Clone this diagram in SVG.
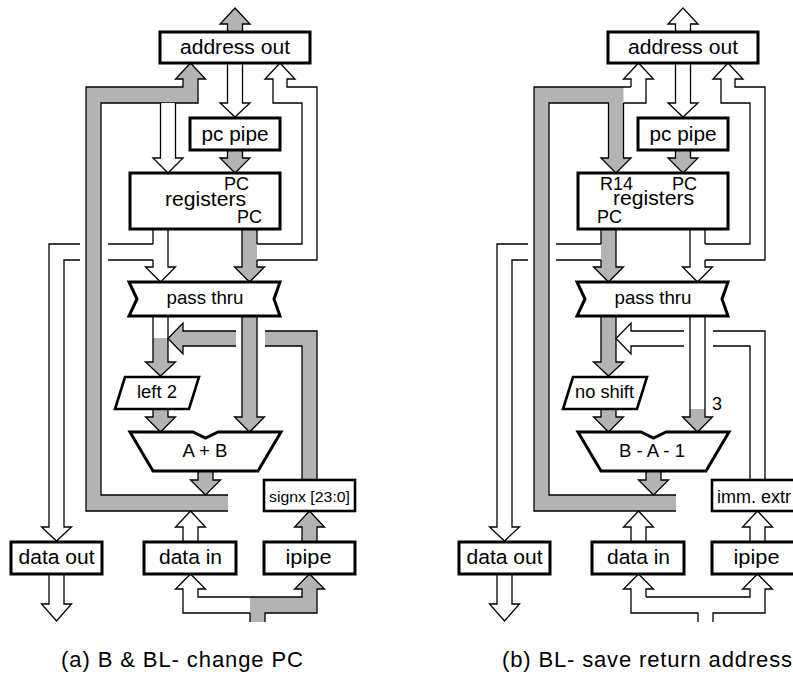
<svg xmlns="http://www.w3.org/2000/svg" width="793" height="675" viewBox="0 0 793 675">
<style>
.box{fill:#fff;stroke:#000;stroke-width:3}
.box2{fill:#fff;stroke:#000;stroke-width:2.6}
.w{fill:#fff;stroke:#000;stroke-width:1.3}
.g{fill:#b3b3b3;stroke:#000;stroke-width:1.3}
.gf{fill:#b3b3b3;stroke:none}
.wf{fill:#fff;stroke:none}
.ln{fill:none;stroke:#000;stroke-width:1.3}
text{font-family:"Liberation Sans",Arial,Helvetica,sans-serif;fill:#000}
.t21{font-size:20.5px}
.t19{font-size:19px}
.t18{font-size:18px}
.t15{font-size:15px}
.cap{font-size:22px}
</style>
<rect width="793" height="675" fill="#fff"/>

<!-- ===== (a) connectors ===== -->
<g id="connectors-a">
<path class="w" d="M153,244 H49 V527 H41.5 L56.5,541 L71.5,527 H64 V260 H153"/>
<path class="w" d="M257,244 H302 V103 H273 V79 H265 L280,63 L295,79 H287 V87 H317 V260 H257"/>
<rect x="80" y="238" width="28" height="28" fill="#fff"/>
<path class="g" d="M228,495 H101 V103 H198 V79 H205.5 L190.5,63 L175.5,79 H183 V87 H86 V511 H228"/>
<path class="w" d="M160.5,103 V158 H153 L168,173 L183,158 H175.5 V103"/>
<path class="g" d="M227.5,32 V24 H220 L235,8 L250,24 H242.5 V32"/>
<path class="w" d="M227.5,63 V103 H220 L235,117 L250,103 H242.5 V63"/>
<path class="g" d="M227.5,150 V158 H220 L235,173 L250,158 H242.5 V150"/>
<polygon class="wf" points="153,229 168,229 168,267 175.5,267 160.5,282 145.5,267 153,267"/>
<path class="ln" d="M153,229 V244 M153,260 V267 H145.5 L160.5,282 L175.5,267 H168 V229"/>
<polygon class="gf" points="242,229 257,229 257,267 264.5,267 249.5,282 234.5,267 242,267"/>
<path class="ln" d="M257,229 V244 M257,260 V267 H264.5 L249.5,282 L234.5,267 H242 V229"/>
<rect class="wf" x="153" y="316" width="15" height="22"/>
<polygon class="gf" points="153,338 168,338 168,362 175.5,362 160.5,376 145.5,362 153,362"/>
<path class="ln" d="M153,316 V362 H145.5 L160.5,376 L175.5,362 H168 V316"/>
<path class="g" d="M236,331 H183 V323 L168,338.5 L183,354 V346 H236"/>
<polygon class="gf" points="265,331 317,331 317,480 302,480 302,346 265,346"/>
<path class="ln" d="M265,331 H317 V480 M265,346 H302 V480"/>
<path class="g" d="M242,316 V417 H234.5 L249.5,432 L264.5,417 H257 V316"/>
<path class="g" d="M153,409 V417 H145.5 L160.5,432 L175.5,417 H168 V409"/>
<path class="g" d="M198,471 V480 H190.5 L205.5,495 L220.5,480 H213 V471"/>
<path class="w" d="M183,542 V527 H175.5 L190.5,511 L205.5,527 H198 V542"/>
<path class="g" d="M302,542 V527 H294.5 L309.5,511 L324.5,527 H317 V542"/>
<path class="w" d="M250,597 H198 V589 H205.5 L190.5,574 L175.5,589 H183 V613 H250"/>
<polygon class="gf" points="250,597 302,597 302,589 294.5,589 309.5,574 324.5,589 317,589 317,613 265,613 265,622 250,622"/>
<path class="ln" d="M250,597 H302 V589 H294.5 L309.5,574 L324.5,589 H317 V613 H265 V622 M250,613 V622"/>
<path class="w" d="M49,574 V604 H41.5 L56.5,621 L71.5,604 H64 V574"/>
</g>

<!-- ===== (a) nodes ===== -->
<g id="addr-a"><rect class="box" x="160" y="32" width="150" height="31"/><text class="t21" x="235" y="54" text-anchor="middle" textLength="110" lengthAdjust="spacingAndGlyphs">address out</text></g>
<g id="pcpipe-a"><rect class="box" x="190" y="118" width="90" height="32"/><text class="t21" x="235" y="141" text-anchor="middle" textLength="67" lengthAdjust="spacingAndGlyphs">pc pipe</text></g>
<g id="regs-a"><rect class="box" x="130" y="173" width="150" height="56"/>
<text class="t18" x="224" y="190" textLength="25" lengthAdjust="spacingAndGlyphs">PC</text>
<text class="t21" x="165" y="206" textLength="81" lengthAdjust="spacingAndGlyphs">registers</text>
<text class="t18" x="237" y="223" textLength="25" lengthAdjust="spacingAndGlyphs">PC</text></g>
<g id="pass-a"><polygon class="box" points="129,282 280,282 274,299 280,316 129,316 137,299"/><text class="t19" x="205" y="304" text-anchor="middle" textLength="77" lengthAdjust="spacingAndGlyphs">pass thru</text></g>
<g id="left2-a"><polygon class="box2" points="125,377 199,377 189,409 115,409"/><text class="t19" x="157" y="398" text-anchor="middle" textLength="40" lengthAdjust="spacingAndGlyphs">left 2</text></g>
<g id="alu-a"><polygon class="box" points="130,432 193,432 205.5,438 218,432 281,432 258,471 153,471"/><text class="t19" x="205" y="457" text-anchor="middle" textLength="45" lengthAdjust="spacingAndGlyphs">A + B</text></g>
<g id="signx-a"><rect class="box2" x="264" y="480" width="91" height="31"/><text class="t15" x="309.5" y="502" text-anchor="middle" textLength="81" lengthAdjust="spacingAndGlyphs">signx [23:0]</text></g>
<g id="dataout-a"><rect class="box" x="11" y="542" width="91" height="32"/><text class="t21" x="56.5" y="564" text-anchor="middle" textLength="76" lengthAdjust="spacingAndGlyphs">data out</text></g>
<g id="datain-a"><rect class="box" x="144" y="542" width="92" height="32"/><text class="t21" x="190.5" y="564" text-anchor="middle" textLength="63" lengthAdjust="spacingAndGlyphs">data in</text></g>
<g id="ipipe-a"><rect class="box" x="264" y="542" width="91" height="32"/><text class="t21" x="308.5" y="564" text-anchor="middle" textLength="46" lengthAdjust="spacingAndGlyphs">ipipe</text></g>
<g id="caption-a"><text class="cap" x="61" y="667" textLength="242" lengthAdjust="spacing">(a) B &amp; BL- change PC</text></g>

<!-- ===== (b) connectors ===== -->
<g id="connectors-b" transform="translate(448,0)">
<path class="w" d="M153,244 H49 V527 H41.5 L56.5,541 L71.5,527 H64 V260 H153"/>
<path class="w" d="M257,244 H302 V103 H273 V79 H265 L280,63 L295,79 H287 V87 H317 V260 H257"/>
<rect x="80" y="238" width="28" height="28" fill="#fff"/>
<polygon class="wf" points="175.5,87 183,87 183,79 175.5,79 190.5,63 205.5,79 198,79 198,103 175.5,103"/>
<path class="ln" d="M175.5,103 H198 V79 H205.5 L190.5,63 L175.5,79 H183 V87"/>
<polygon class="gf" points="228,511 86,511 86,87 175.5,87 175.5,158 183,158 168,173 153,158 160.5,158 160.5,103 101,103 101,495 228,495"/>
<path class="ln" d="M228,495 H101 V103 H160.5 V158 H153 L168,173 L183,158 H175.5 V103 M183,87 H86 V511 H228"/>
<path class="w" d="M227.5,32 V24 H220 L235,8 L250,24 H242.5 V32"/>
<path class="w" d="M227.5,63 V103 H220 L235,117 L250,103 H242.5 V63"/>
<path class="g" d="M227.5,150 V158 H220 L235,173 L250,158 H242.5 V150"/>
<polygon class="gf" points="153,229 168,229 168,267 175.5,267 160.5,282 145.5,267 153,267"/>
<path class="ln" d="M153,229 V244 M153,260 V267 H145.5 L160.5,282 L175.5,267 H168 V229"/>
<polygon class="wf" points="242,229 257,229 257,267 264.5,267 249.5,282 234.5,267 242,267"/>
<path class="ln" d="M257,229 V244 M257,260 V267 H264.5 L249.5,282 L234.5,267 H242 V229"/>
<path class="g" d="M153,316 V362 H145.5 L160.5,376 L175.5,362 H168 V316"/>
<path class="w" d="M236,331 H183 V323 L168,338.5 L183,354 V346 H236"/>
<polygon class="wf" points="265,331 317,331 317,480 302,480 302,346 265,346"/>
<path class="ln" d="M265,331 H317 V480 M265,346 H302 V480"/>
<rect class="wf" x="242" y="316" width="15" height="93"/>
<polygon class="gf" points="242,409 257,409 257,417 264.5,417 249.5,432 234.5,417 242,417"/>
<path class="ln" d="M242,316 V417 H234.5 L249.5,432 L264.5,417 H257 V316"/>
<path class="g" d="M153,409 V417 H145.5 L160.5,432 L175.5,417 H168 V409"/>
<path class="g" d="M198,471 V480 H190.5 L205.5,495 L220.5,480 H213 V471"/>
<path class="w" d="M183,542 V527 H175.5 L190.5,511 L205.5,527 H198 V542"/>
<path class="w" d="M302,542 V527 H294.5 L309.5,511 L324.5,527 H317 V542"/>
<polygon class="wf" points="183,613 250,613 250,622 265,622 265,613 317,613 317,589 324.5,589 309.5,574 294.5,589 302,589 302,597 198,597 198,589 205.5,589 190.5,574 175.5,589 183,589"/>
<path class="ln" d="M198,597 H302 V589 H294.5 L309.5,574 L324.5,589 H317 V613 H265 V622 M250,622 V613 H183 V589 H175.5 L190.5,574 L205.5,589 H198 V597"/>
<path class="w" d="M49,574 V604 H41.5 L56.5,621 L71.5,604 H64 V574"/>
</g>

<!-- ===== (b) nodes ===== -->
<g id="addr-b" transform="translate(448,0)"><rect class="box" x="160" y="32" width="150" height="31"/><text class="t21" x="235" y="54" text-anchor="middle" textLength="110" lengthAdjust="spacingAndGlyphs">address out</text></g>
<g id="pcpipe-b" transform="translate(448,0)"><rect class="box" x="190" y="118" width="90" height="32"/><text class="t21" x="235" y="141" text-anchor="middle" textLength="67" lengthAdjust="spacingAndGlyphs">pc pipe</text></g>
<g id="regs-b" transform="translate(448,0)"><rect class="box" x="130" y="173" width="150" height="56"/>
<text class="t18" x="152" y="190" textLength="33" lengthAdjust="spacingAndGlyphs">R14</text>
<text class="t18" x="224" y="190" textLength="25" lengthAdjust="spacingAndGlyphs">PC</text>
<text class="t21" x="165" y="205" textLength="81" lengthAdjust="spacingAndGlyphs">registers</text>
<text class="t18" x="149" y="223" textLength="25" lengthAdjust="spacingAndGlyphs">PC</text></g>
<g id="pass-b" transform="translate(448,0)"><polygon class="box" points="129,282 280,282 274,299 280,316 129,316 137,299"/><text class="t19" x="205" y="304" text-anchor="middle" textLength="77" lengthAdjust="spacingAndGlyphs">pass thru</text></g>
<g id="noshift-b" transform="translate(448,0)"><polygon class="box2" points="125,377 199,377 189,409 115,409"/><text class="t19" x="156.5" y="398" text-anchor="middle" textLength="59" lengthAdjust="spacingAndGlyphs">no shift</text></g>
<g id="alu-b" transform="translate(448,0)"><polygon class="box" points="130,432 193,432 205.5,438 218,432 281,432 258,471 153,471"/><text class="t19" x="204" y="457" text-anchor="middle" textLength="66" lengthAdjust="spacingAndGlyphs">B - A - 1</text></g>
<g id="label3-b"><text class="t18" x="712" y="410">3</text></g>
<g id="immextr-b" transform="translate(448,0)"><rect class="box2" x="264" y="480" width="91" height="31"/><text class="t18" x="269" y="503">imm. extr</text></g>
<g id="dataout-b" transform="translate(448,0)"><rect class="box" x="11" y="542" width="91" height="32"/><text class="t21" x="56.5" y="564" text-anchor="middle" textLength="76" lengthAdjust="spacingAndGlyphs">data out</text></g>
<g id="datain-b" transform="translate(448,0)"><rect class="box" x="144" y="542" width="92" height="32"/><text class="t21" x="190.5" y="564" text-anchor="middle" textLength="63" lengthAdjust="spacingAndGlyphs">data in</text></g>
<g id="ipipe-b" transform="translate(448,0)"><rect class="box" x="264" y="542" width="91" height="32"/><text class="t21" x="308.5" y="564" text-anchor="middle" textLength="46" lengthAdjust="spacingAndGlyphs">ipipe</text></g>
<g id="caption-b"><text class="cap" x="502" y="667" textLength="290" lengthAdjust="spacing">(b) BL- save return address</text></g>
</svg>
